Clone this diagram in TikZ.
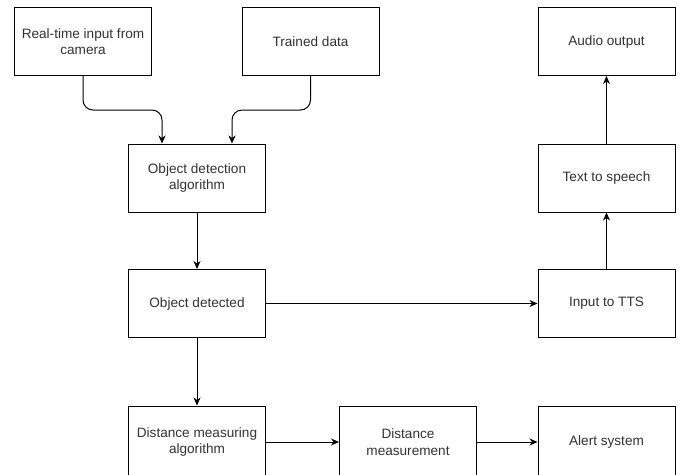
\documentclass[tikz,border=0pt]{standalone}
\usepackage{fontspec}
\setmainfont{Liberation Sans}
\usetikzlibrary{arrows.meta,calc}
\definecolor{txt}{HTML}{333333}
\tikzset{
  box/.style={draw=black, line width=1pt, fill=white, minimum width=137pt, minimum height=68pt,
    align=center, text=txt, font=\fontsize{13.6}{16.5}\selectfont, inner sep=2pt},
  lowbox/.style={box, minimum height=72pt},
  conn/.style={draw=black, line width=1pt, -{Stealth[length=8pt,width=7pt,inset=2.5pt]}}
}
\begin{document}
\begin{tikzpicture}[x=1pt,y=-1pt]
\useasboundingbox[fill=white] (0,0) rectangle (680,474);
\begin{scope}
\clip (0,0) rectangle (680,474);
\node[box] (cam) at (83,41.5) {Real-time input from\\camera};
\node[box] (trn) at (310.5,41.5) {Trained data};
\node[box] (aud) at (606.5,41.5) {Audio output};
\node[box] (det) at (197,178) {Object detection\\algorithm};
\node[box] (tts) at (606.5,178) {Text to speech};
\node[box] (obj) at (197,303.5) {Object detected};
\node[box] (inp) at (606.5,303.5) {Input to TTS};
\node[lowbox] (dma) at (197,442) {Distance measuring\\algorithm};
\node[lowbox] (dm) at (408,442) {Distance\\measurement};
\node[lowbox] (alr) at (606.5,442) {Alert system};
\coordinate (detL) at ([xshift=34pt]det.north west);
\coordinate (detR) at ([xshift=-34pt]det.north east);
\draw[conn, rounded corners=10pt] (cam.south) -- ++(0,34) -| (detL);
\draw[conn, rounded corners=10pt] (trn.south) -- ++(0,34) -| (detR);
\draw[conn] (det) -- (obj);
\draw[conn] (obj) -- (dma);
\draw[conn] (obj) -- (inp);
\draw[conn] (inp) -- (tts);
\draw[conn] (tts) -- (aud);
\draw[conn] (dma) -- (dm);
\draw[conn] (dm) -- (alr);
\end{scope}
\end{tikzpicture}
\end{document}
